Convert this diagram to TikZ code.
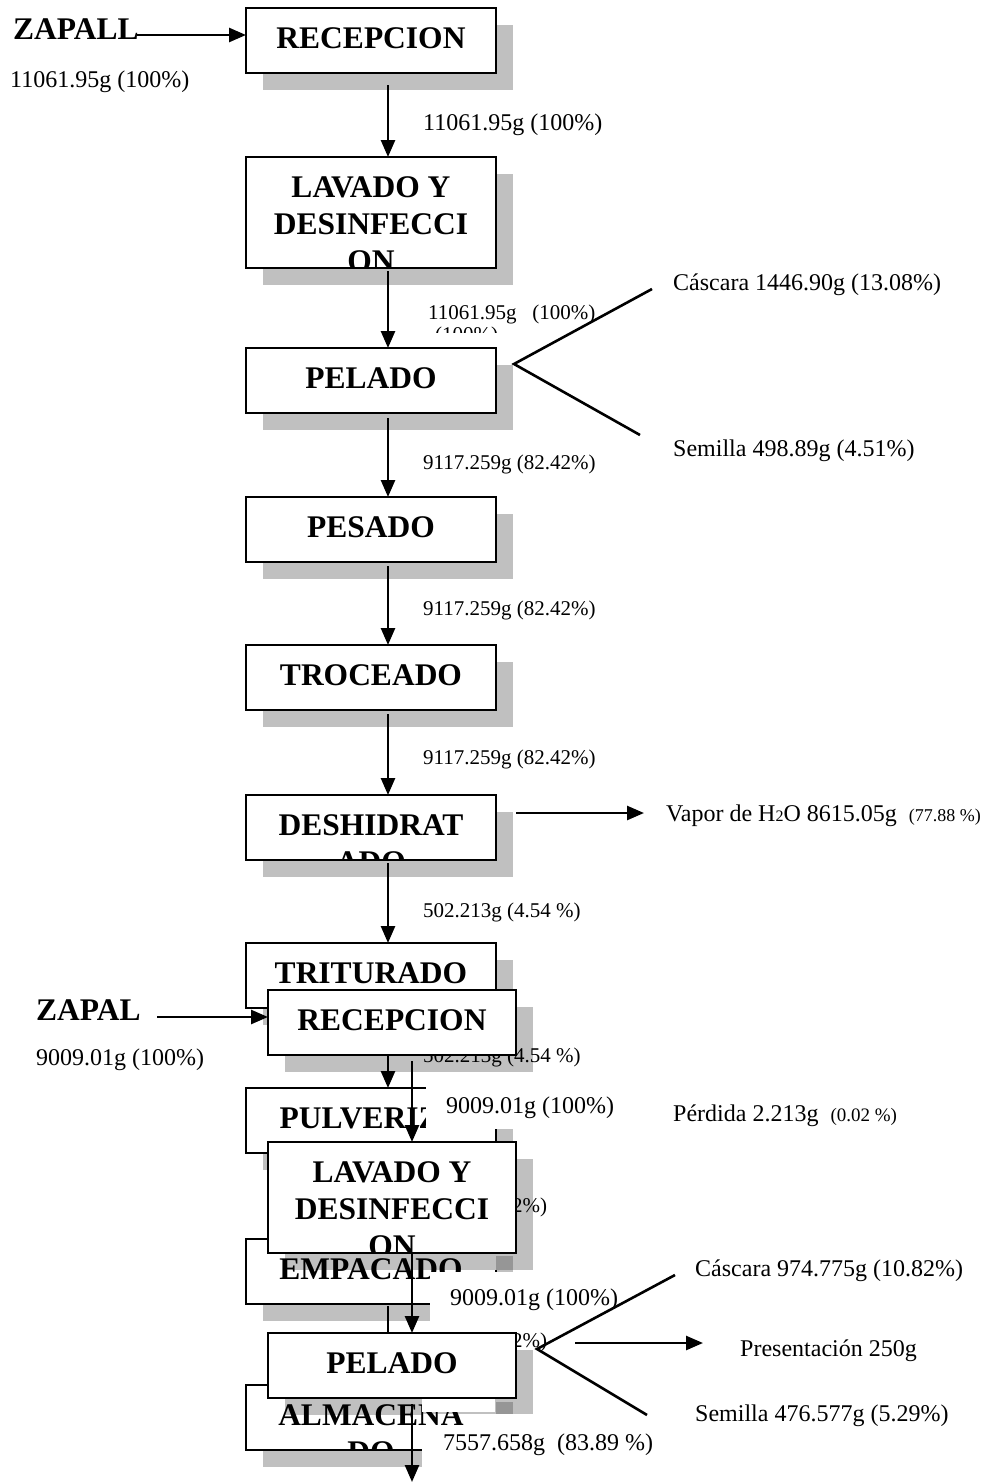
\documentclass[tikz,border=0pt]{standalone}
\usepackage{fontspec}
\setmainfont{Liberation Serif}
\usetikzlibrary{calc,arrows.meta}
\definecolor{shadowgray}{RGB}{192,192,192}
\definecolor{shadowdeep}{RGB}{150,150,150}
\pgfdeclarelayer{shA}
\pgfdeclarelayer{bxA}
\pgfdeclarelayer{shB}
\pgfdeclarelayer{txA}
\pgfdeclarelayer{wbB}
\pgfsetlayers{shA,bxA,shB,txA,wbB,main}
% gray drop shadow under a process box
\newcommand\dropshade[1]{\fill[shadowgray] ($(#1.south west)+(17,17)$) rectangle ($(#1.north east)+(17,17)$);}
% one line of bold text inside a box (line index #2)
\newcommand\procline[3]{\node[boxtxt] (#1t#2) at ($(#1.north)+(0,40+37*#2)$) {#3};}
% box text clipped to the box
\newcommand\procbody[2]{\begin{scope}\clip (#1.south west) rectangle (#1.north east); #2 \end{scope}}
\begin{document}
\begin{tikzpicture}[x=1pt,y=-1pt,
  proc/.style={draw=black, fill=white, line width=1.3pt, inner sep=0pt, outer sep=0pt, anchor=north west, minimum height=65pt},
  procA/.style={proc, minimum width=250pt},
  procB/.style={proc, minimum width=248pt},
  tall/.style={minimum height=111pt},
  boxtxt/.style={inner sep=0pt, anchor=base, font=\fontsize{31.5}{37}\selectfont\bfseries},
  lbl/.style={inner sep=0pt, anchor=base west, font=\fontsize{24}{28}\selectfont},
  lbls/.style={inner sep=0pt, anchor=base west, font=\fontsize{21}{25}\selectfont},
  flow/.style={line width=2.6pt, -{Triangle[length=17pt,width=14pt]}},
  forkline/.style={line width=2.6pt},
]
\useasboundingbox (0,0) rectangle (1006,1483);
\begin{pgfonlayer}{shA}
  \fill[white] (0,0) rectangle (1006,1483);
\end{pgfonlayer}

% ---------- first process line: boxes ----------
\begin{pgfonlayer}{bxA}
  \node[procA] (rec1) at (246,8) {};
  \node[procA,tall] (lav1) at (246,157) {};
  \node[procA] (pel1) at (246,348) {};
  \node[procA] (pes1) at (246,497) {};
  \node[procA] (tro1) at (246,645) {};
  \node[procA] (des1) at (246,795) {};
  \node[procA] (tri1) at (246,943) {};
  \node[procA] (pul1) at (246,1088) {};
  \node[procA] (emp1) at (246,1239) {};
  \node[procA] (alm1) at (246,1385) {};
\end{pgfonlayer}

% ---------- second process line: boxes ----------
\node[procB] (rec2) at (268,990) {};
\node[procB,tall] (lav2) at (268,1142) {};
\node[procB] (pel2) at (268,1333) {};

% ---------- shadows ----------
\begin{pgfonlayer}{shA}
  \dropshade{rec1}\dropshade{lav1}\dropshade{pel1}\dropshade{pes1}\dropshade{tro1}
  \dropshade{des1}\dropshade{tri1}\dropshade{pul1}\dropshade{emp1}\dropshade{alm1}
\end{pgfonlayer}
\begin{pgfonlayer}{shB}
  \dropshade{rec2}\dropshade{lav2}\dropshade{pel2}
  \fill[shadowdeep] (496,1256) rectangle (513,1270);
  \fill[shadowdeep] (496,1402) rectangle (513,1415);
  \fill[white] (422,1414) rectangle (660,1472);
\end{pgfonlayer}

% ---------- first process line: texts, flows, amounts ----------
\begin{pgfonlayer}{txA}
  \procbody{rec1}{\procline{rec1}{0}{RECEPCION}}
  \procbody{lav1}{\procline{lav1}{0}{LAVADO Y}\procline{lav1}{1}{DESINFECCI}\procline{lav1}{2}{ON}}
  \procbody{pel1}{\procline{pel1}{0}{PELADO}}
  \procbody{pes1}{\procline{pes1}{0}{PESADO}}
  \procbody{tro1}{\procline{tro1}{0}{TROCEADO}}
  \procbody{des1}{\procline{des1}{0}{DESHIDRAT}\procline{des1}{1}{ADO}}
  \procbody{tri1}{\procline{tri1}{0}{TRITURADO}}
  \procbody{pul1}{\procline{pul1}{0}{PULVERIZA}\procline{pul1}{1}{DO}}
  \procbody{emp1}{\procline{emp1}{0}{EMPACADO}}
  \procbody{alm1}{\procline{alm1}{0}{ALMACENA}\procline{alm1}{1}{DO}}

  \node[boxtxt, anchor=base west] (zin1) at (13,39) {ZAPALL};
  \node[lbl] (zq1) at (10,87) {11061.95g (100\%)};
  \coordinate (zs1) at (137,35);
  \draw[flow] (zs1) -- (rec1.west |- zs1);

  \coordinate (ax1) at (388,0);
  \draw[flow] ($(rec1.south -| ax1)+(0,12)$) -- (lav1.north -| ax1);
  \draw[flow] ($(lav1.south -| ax1)+(0,3)$) -- (pel1.north -| ax1);
  \draw[flow] ($(pel1.south -| ax1)+(0,5)$) -- (pes1.north -| ax1);
  \draw[flow] ($(pes1.south -| ax1)+(0,4)$) -- (tro1.north -| ax1);
  \draw[flow] ($(tro1.south -| ax1)+(0,4)$) -- (des1.north -| ax1);
  \draw[flow] ($(des1.south -| ax1)+(0,3)$) -- (tri1.north -| ax1);
  \draw[flow] ($(tri1.south -| ax1)+(0,3)$) -- (pul1.north -| ax1);
  \draw[flow] ($(pul1.south -| ax1)+(0,3)$) -- (emp1.north -| ax1);
  \draw[flow] ($(emp1.south -| ax1)+(0,2)$) -- (alm1.north -| ax1);

  \node[lbl] (m1) at (423,130) {11061.95g (100\%)};
  \node[lbls] (m2) at (428,319) {11061.95g\ \ \ (100\%)};
  \begin{scope}
    \clip (420,320) rectangle (520,332);
    \node[lbls] (m2b) at (435,341) {(100\%)};
  \end{scope}
  \node[lbls] (m3) at (423,469) {9117.259g (82.42\%)};
  \node[lbls] (m4) at (423,615) {9117.259g (82.42\%)};
  \node[lbls] (m5) at (423,764) {9117.259g (82.42\%)};
  \node[lbls] (m6) at (423,917) {502.213g (4.54 \%)};
  \node[lbls] (m7) at (423,1062) {502.213g (4.54 \%)};
  \node[lbls] (m8) at (512,1212) {2\%)};
  \node[lbls] (m9) at (512,1347) {2\%)};

  \node[lbl] (cas1) at (673,290) {Cáscara 1446.90g (13.08\%)};
  \node[lbl] (sem1) at (673,456) {Semilla 498.89g (4.51\%)};
  \coordinate (pel1x) at ($(pel1.north east)+(18,16)$);
  \coordinate (cas1e) at (652,289);
  \coordinate (sem1e) at (640,435);
  \draw[forkline] (cas1e) -- (pel1x) -- (sem1e);

  \node[lbl] (vap) at (666,821) {Vapor de H{\fontsize{16}{16}\selectfont 2}O 8615.05g\ \ {\fontsize{18}{20}\selectfont (77.88 \%)}};
  \coordinate (vs) at ($(des1.north east)+(20,18)$);
  \coordinate (ve) at (644,813);
  \draw[flow] (vs) -- (ve);

  \node[lbl] (per) at (673,1121) {Pérdida 2.213g\ \ {\fontsize{19}{20}\selectfont (0.02 \%)}};
\end{pgfonlayer}

% ---------- white backgrounds of the second line's amounts ----------
\begin{pgfonlayer}{wbB}
  \fill[white] (426,1078) rectangle (640,1129);
  \fill[white] (430,1272) rectangle (640,1323);
  \fill[white] (422,1398) rectangle (495,1412);
\end{pgfonlayer}

% ---------- second process line: texts, flows, amounts ----------
\procbody{rec2}{\procline{rec2}{0}{RECEPCION}}
\procbody{lav2}{\procline{lav2}{0}{LAVADO Y}\procline{lav2}{1}{DESINFECCI}\procline{lav2}{2}{ON}}
\procbody{pel2}{\procline{pel2}{0}{PELADO}}

\node[boxtxt, anchor=base west] (zin2) at (36,1020) {ZAPAL};
\node[lbl] (zq2) at (36,1065) {9009.01g (100\%)};
\coordinate (zs2) at (157,1017);
\draw[flow] (zs2) -- (rec2.west |- zs2);

\coordinate (ax2) at (412,0);
\draw[flow] ($(rec2.south -| ax2)+(0,6)$) -- (lav2.north -| ax2);
\draw[flow] ($(lav2.south -| ax2)+(0,1)$) -- (pel2.north -| ax2);
\coordinate (endp) at (412,1482);
\draw[flow] ($(pel2.south -| ax2)+(0,6)$) -- (endp);

\node[lbl] (n1) at (446,1113) {9009.01g (100\%)};
\node[lbl] (n2) at (450,1305) {9009.01g (100\%)};
\node[lbl] (n3) at (443,1450) {7557.658g\ \ (83.89 \%)};

\node[lbl] (cas2) at (695,1276) {Cáscara 974.775g (10.82\%)};
\node[lbl] (pres) at (740,1356) {Presentación 250g};
\node[lbl] (sem2) at (695,1421) {Semilla 476.577g (5.29\%)};
\coordinate (pel2x) at ($(pel2.north east)+(21,16)$);
\coordinate (cas2e) at (675,1275);
\coordinate (sem2e) at (647,1415);
\draw[forkline] (cas2e) -- (pel2x) -- (sem2e);
\coordinate (ps) at (575,1343);
\coordinate (pe) at (703,1343);
\draw[flow] (ps) -- (pe);
\end{tikzpicture}
\end{document}
